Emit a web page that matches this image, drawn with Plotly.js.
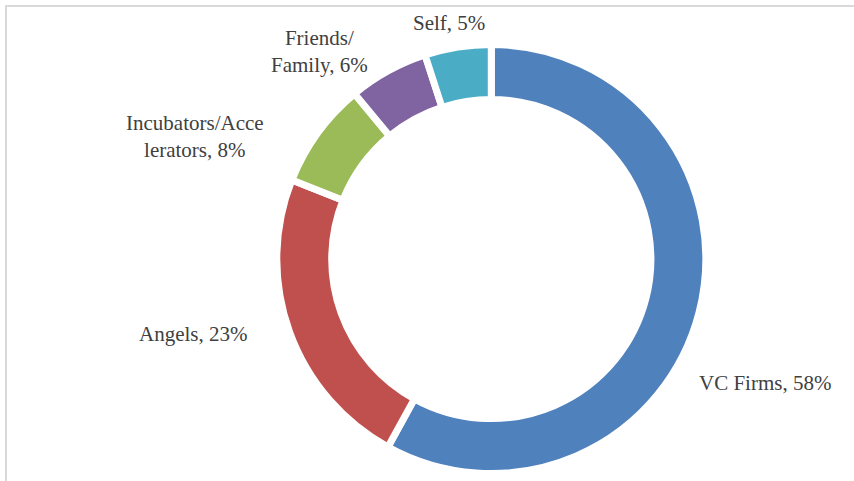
<!DOCTYPE html>
<html>
<head>
<meta charset="utf-8">
<script src="https://cdn.plot.ly/plotly-3.0.1.min.js"></script>
<style>
html,body{margin:0;padding:0;background:#fff;}
#chart{width:854px;height:481px;}
</style>
</head>
<body>
<div id="chart"></div>
<script>
var categories = ["VC Firms", "Angels", "Incubators/Accelerators", "Friends/Family", "Self"];
var values = [58, 23, 8, 6, 5];
var labelTexts = ["VC Firms, 58%", "Angels, 23%", "Incubators/Acce<br>lerators, 8%", "Friends/<br>Family, 6%", "Self, 5%"];
var colors = ["#4F81BD", "#C0504D", "#9BBB59", "#8064A2", "#4BACC6"];

var W = 854, H = 481;
var labelPos = [[765, 383], [193, 334], [195, 137], [319, 51], [449, 23]];

var cx = 491.3, cy = 259, r = 214.5;
var trace = {
  type: "pie",
  labels: categories,
  values: values,
  sort: false,
  direction: "clockwise",
  rotation: 0,
  hole: 0.744,
  textinfo: "none",
  hoverinfo: "label+percent",
  marker: {colors: colors, line: {color: "#ffffff", width: 7}},
  domain: {x: [(cx - r) / W, (cx + r) / W], y: [(H - (cy + r)) / H, (H - (cy - r)) / H]},
  showlegend: false
};

var annotations = labelTexts.map(function (t, i) {
  return {
    text: t, xref: "paper", yref: "paper",
    x: labelPos[i][0] / W, y: 1 - labelPos[i][1] / H,
    xanchor: "center", yanchor: "middle", showarrow: false,
    font: {family: "Liberation Serif, serif", size: 21, color: "#404040"}
  };
});

var layout = {
  width: W, height: H,
  margin: {l: 0, r: 0, t: 0, b: 0},
  paper_bgcolor: "#ffffff",
  annotations: annotations,
  shapes: [
    {type: "line", xref: "paper", yref: "paper", x0: 6 / W, x1: 6 / W, y0: 0, y1: 1 - 5 / H, line: {color: "#d9d9d9", width: 2}},
    {type: "line", xref: "paper", yref: "paper", x0: 5 / W, x1: 1, y0: 1 - 6 / H, y1: 1 - 6 / H, line: {color: "#d9d9d9", width: 2}}
  ]
};

Plotly.newPlot("chart", [trace], layout, {displayModeBar: false, staticPlot: true});
</script>
</body>
</html>
